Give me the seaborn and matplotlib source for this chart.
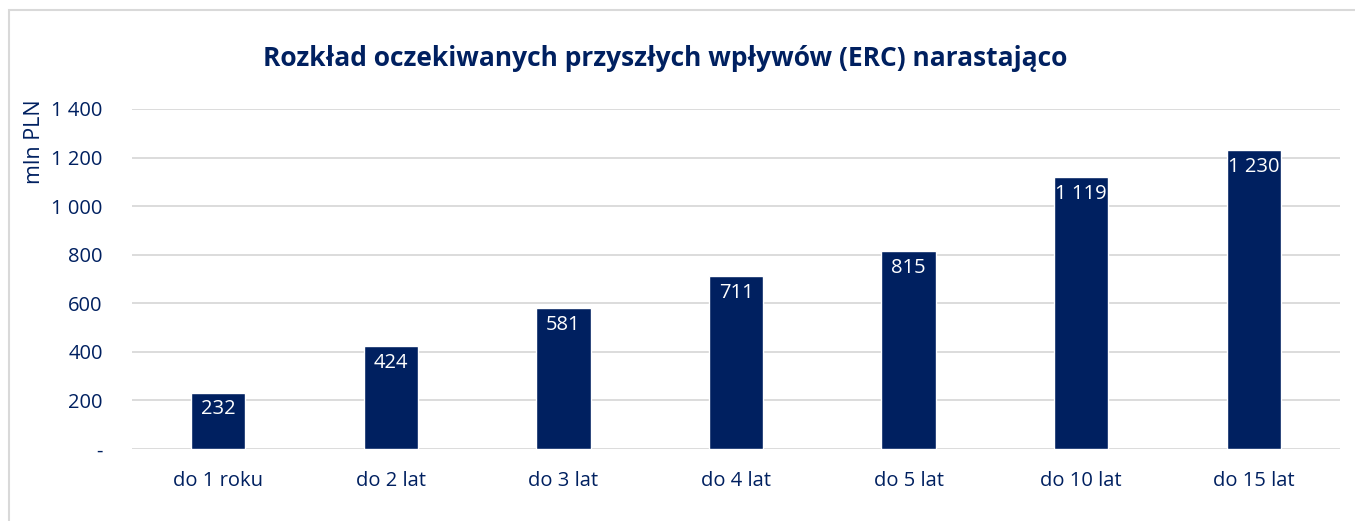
import matplotlib
matplotlib.use('Agg')
import matplotlib.pyplot as plt
import seaborn as sns
import pandas as pd
from matplotlib.patches import Rectangle

# dane
kategorie = ['do 1 roku', 'do 2 lat', 'do 3 lat', 'do 4 lat', 'do 5 lat', 'do 10 lat', 'do 15 lat']
wartosci = [232, 424, 581, 711, 815, 1119, 1230]
yticks = [0, 200, 400, 600, 800, 1000, 1200, 1400]
ytick_labels = ['-', '200', '400', '600', '800', '1 000', '1 200', '1 400']

granat = '#002060'

sns.set_style('white')
plt.rcParams['font.family'] = ['Open Sans', 'DejaVu Sans']

df = pd.DataFrame({'kat': kategorie, 'val': wartosci})

fig = plt.figure(figsize=(13.55, 5.21), dpi=100)
ax = fig.add_axes([132 / 1355, 1 - 449 / 521, 1208 / 1355, 340 / 521])

sns.barplot(data=df, x='kat', y='val', color=granat, saturation=1, width=0.315, ax=ax, zorder=3)

ax.set_ylim(0, 1400)
ax.set_yticks(yticks)
ax.set_yticklabels(ytick_labels)
ax.yaxis.grid(True, color='#d9d9d9', linewidth=1.3, zorder=0)
ax.set_axisbelow(True)
for s in ax.spines.values():
    s.set_visible(False)
ax.tick_params(axis='both', length=0, labelsize=14.5, colors=granat)
ax.tick_params(axis='y', pad=21)
ax.tick_params(axis='x', pad=16)
ax.set_xlabel('')
ax.set_ylabel('')

# etykiety danych
for i, v in enumerate(wartosci):
    lab = f'{v:,}'.replace(',', ' ')
    ax.text(i, v - 28, lab, ha='center', va='top', color='white', fontsize=14.5)

fig.text(665 / 1355, 1 - 58 / 521, 'Rozkład oczekiwanych przyszłych wpływów (ERC) narastająco',
         ha='center', va='center', fontsize=19, fontweight='bold', color=granat)
fig.text(34 / 1355, 1 - 99 / 521, 'mln PLN', rotation=90, ha='center', va='top',
         fontsize=15.5, color=granat)

# ramka
fig.patches.append(Rectangle((9 / 1355, -0.1), 1.2, 1 - 10 / 521 + 0.1, transform=fig.transFigure,
                             fill=False, edgecolor='#d9d9d9', linewidth=1.5))

fig.savefig('out.png', dpi=100)
